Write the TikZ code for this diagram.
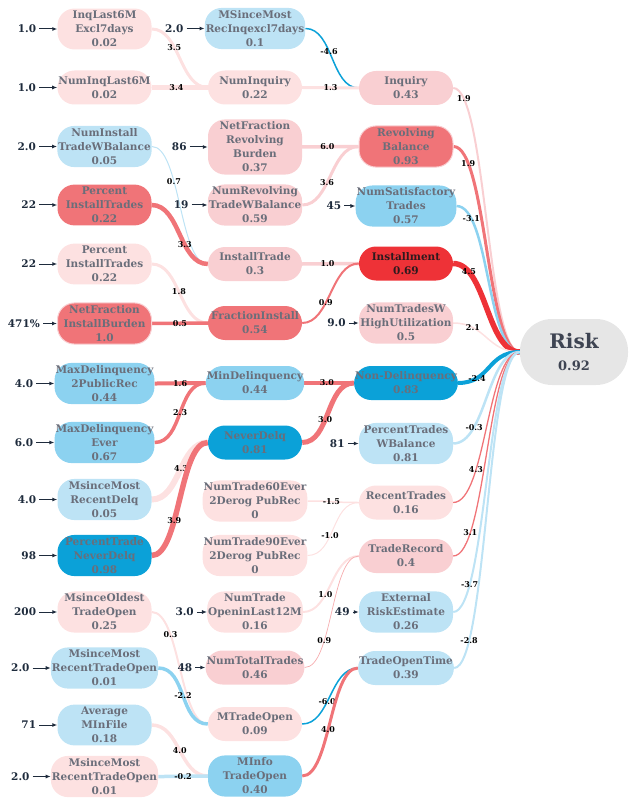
\documentclass[tikz,border=0pt]{standalone}
\usepackage{fontspec}
\setmainfont{DejaVu Serif}
\usetikzlibrary{positioning,calc,arrows.meta}

\definecolor{palepink}{HTML}{FDE1E1}
\definecolor{pinkc}{HTML}{F9CFD2}
\definecolor{redc}{HTML}{F07478}
\definecolor{hotred}{HTML}{EE3237}
\definecolor{paleblue}{HTML}{BDE3F5}
\definecolor{bluec}{HTML}{8CD2F0}
\definecolor{deepblue}{HTML}{0BA1D8}
\definecolor{riskgray}{HTML}{E6E6E6}
\definecolor{txtgray}{HTML}{6A6E7A}
\definecolor{risktxt}{HTML}{3E4452}
\definecolor{insttxt}{HTML}{2D1A1E}
\definecolor{navy}{HTML}{1E2B3C}

\pgfdeclarelayer{bg}
\pgfsetlayers{bg,main}

\tikzset{
  feat/.style={rounded corners=17pt, minimum width=94pt, minimum height=34pt,
    align=center, inner xsep=1pt, inner ysep=2.5pt, text=txtgray,
    font=\bfseries\fontsize{10.5}{14}\selectfont},
  innum/.style={font=\bfseries\fontsize{10.5}{12}\selectfont, text=navy, inner sep=1pt},
  inarr/.style={-{Latex[length=5pt,width=4pt]}, navy, line width=1pt, shorten <=2pt},
  wlab/.style={font=\bfseries\fontsize{8}{9}\selectfont, text=black, inner sep=0pt}
}

\begin{document}
\begin{tikzpicture}[x=1pt,y=-1pt]
    \useasboundingbox (0,0) rectangle (636,802);

    % Column 1
    \node[feat, fill=palepink] (inqExcl) at (104.5,29) {InqLast6M\\Excl7days\\0.02};
    \node[feat, fill=palepink] (numInq6M) at (104.5,87.5) {NumInqLast6M\\0.02};
    \node[feat, fill=paleblue] (numInstBal) at (104.5,146.5) {NumInstall\\TradeWBalance\\0.05};
    \node[feat, fill=redc] (pctInstA) at (104.5,205) {Percent\\InstallTrades\\0.22};
    \node[feat, fill=palepink] (pctInstB) at (104.5,264) {Percent\\InstallTrades\\0.22};
    \node[feat, fill=redc, draw=pinkc, line width=1pt] (netInstBurden) at (104.5,323.5) {NetFraction\\InstallBurden\\1.0};
    \node[feat, fill=bluec] (maxDelqPub) at (104.5,383.5) {MaxDelinquency\\2PublicRec\\0.44};
    \node[feat, fill=bluec] (maxDelqEver) at (104.5,442.5) {MaxDelinquency\\Ever\\0.67};
    \node[feat, fill=paleblue] (msDelq) at (104.5,499.5) {MsinceMost\\RecentDelq\\0.05};
    \node[feat, fill=deepblue] (pctNeverDelq) at (104.5,555.5) {PercentTrade\\NeverDelq\\0.98};
    \node[feat, fill=palepink] (msOldest) at (104.5,612) {MsinceOldest\\TradeOpen\\0.25};
    \node[feat, fill=paleblue] (msRecentA) at (104.5,668) {MsinceMost\\RecentTradeOpen\\0.01};
    \node[feat, fill=paleblue] (avgMFile) at (104.5,725) {Average\\MInFile\\0.18};
    \node[feat, fill=palepink] (msRecentB) at (104.5,776.5) {MsinceMost\\RecentTradeOpen\\0.01};

    % Column 2
    \node[feat, fill=paleblue] (msRecInq) at (255,28.5) {MSinceMost\\RecInqexcl7days\\0.1};
    \node[feat, fill=palepink] (numInquiry) at (255,87.5) {NumInquiry\\0.22};
    \node[feat, fill=pinkc] (netRevBurden) at (255,147) {NetFraction\\Revolving\\Burden\\0.37};
    \node[feat, fill=pinkc] (numRevBal) at (255,205) {NumRevolving\\TradeWBalance\\0.59};
    \node[feat, fill=pinkc] (installTrade) at (255,264) {InstallTrade\\0.3};
    \node[feat, fill=redc] (fracInstall) at (255,323) {FractionInstall\\0.54};
    \node[feat, fill=bluec] (minDelq) at (255,383) {MinDelinquency\\0.44};
    \node[feat, fill=deepblue] (neverDelq) at (255,442.5) {NeverDelq\\0.81};
    \node[feat, fill=palepink] (trade60) at (255,501) {NumTrade60Ever\\2Derog PubRec\\0};
    \node[feat, fill=palepink] (trade90) at (255,555.5) {NumTrade90Ever\\2Derog PubRec\\0};
    \node[feat, fill=palepink] (tradeOpen12) at (255,612) {NumTrade\\OpeninLast12M\\0.16};
    \node[feat, fill=pinkc] (numTotal) at (255,667.5) {NumTotalTrades\\0.46};
    \node[feat, fill=palepink] (mTradeOpen) at (255,724) {MTradeOpen\\0.09};
    \node[feat, fill=bluec] (mInfo) at (255,776) {MInfo\\TradeOpen\\0.40};

    % Column 3
    \node[feat, fill=pinkc] (inquiry) at (406,88) {Inquiry\\0.43};
    \node[feat, fill=redc, draw=pinkc, line width=1pt] (revBal) at (406,146.5) {Revolving\\Balance\\0.93};
    \node[feat, fill=bluec] (numSat) at (406,206) {NumSatisfactory\\Trades\\0.57};
    \node[feat, fill=hotred, text=insttxt] (installment) at (406,263.5) {Installment\\0.69};
    \node[feat, fill=pinkc] (highUtil) at (406,323) {NumTradesW\\HighUtilization\\0.5};
    \node[feat, fill=deepblue] (nonDelq) at (406,383) {Non-Delinquency\\0.83};
    \node[feat, fill=paleblue] (pctBal) at (406,443.5) {PercentTrades\\WBalance\\0.81};
    \node[feat, fill=palepink] (recentTrades) at (406,502.5) {RecentTrades\\0.16};
    \node[feat, fill=pinkc] (tradeRecord) at (406,556) {TradeRecord\\0.4};
    \node[feat, fill=paleblue] (extRisk) at (406,612) {External\\RiskEstimate\\0.26};
    \node[feat, fill=paleblue] (openTime) at (406,668) {TradeOpenTime\\0.39};

    % Output
    \node[fill=riskgray, rounded corners=32pt, minimum width=108pt, minimum height=66pt,
      align=center, text=risktxt, font=\bfseries\fontsize{13}{22}\selectfont] (risk) at (574,352)
      {{\fontsize{20}{22}\selectfont Risk}\\0.92};

    % Input values
    \foreach \n/\v/\g in {inqExcl/1.0/20pt, numInq6M/1.0/20pt, numInstBal/2.0/20pt,
        pctInstA/22/20pt, pctInstB/22/20pt, netInstBurden/471\%/16pt, maxDelqPub/4.0/20pt,
        maxDelqEver/6.0/20pt, msDelq/4.0/20pt, pctNeverDelq/98/20pt, msOldest/200/20pt,
        msRecentA/2.0/20pt, avgMFile/71/20pt, msRecentB/2.0/20pt,
        msRecInq/2.0/20pt, netRevBurden/86/20pt, numRevBal/19/18pt,
        tradeOpen12/3.0/12pt, numTotal/48/12pt,
        numSat/45/13pt, highUtil/9.0/12pt, pctBal/81/13pt, extRisk/49/8pt}
    {
        \node[innum, left=\g of \n] (v\n) {\v};
        \draw[inarr] (v\n) -- (\n);
    }

    \begin{pgfonlayer}{bg}
    % Column 1 to column 2
    \foreach \src/\dst/\col/\lw/\ps/\lab in {
        inqExcl/numInquiry/palepink/3pt/.37/3.5,
        numInq6M/numInquiry/palepink/4.5pt/.42/3.4,
        numInstBal/installTrade/paleblue/1pt/.36/0.7,
        pctInstA/installTrade/redc/4.5pt/.62/3.3,
        pctInstB/fracInstall/palepink/3pt/.48/1.8,
        netInstBurden/fracInstall/redc/3.5pt/.5/0.5,
        maxDelqPub/minDelq/redc/4pt/.5/1.6,
        maxDelqEver/minDelq/redc/3.5pt/.5/2.3,
        msDelq/neverDelq/palepink/6pt/.53/4.3,
        pctNeverDelq/neverDelq/redc/5.5pt/.37/3.9,
        msOldest/mTradeOpen/palepink/2pt/.29/0.3,
        msRecentA/mTradeOpen/bluec/3.5pt/.5/-2.2,
        avgMFile/mInfo/palepink/3.5pt/.5/4.0,
        msRecentB/mInfo/paleblue/3.5pt/.5/-0.2}
        \draw[draw=\col, line width=\lw] (\src.east) .. controls +(28.5,0) and +(-28.5,0)
            .. node[wlab, pos=\ps] {\lab} (\dst.west);

    % Column 2 to column 3
    \foreach \src/\dst/\col/\lw/\ps/\lab in {
        msRecInq/inquiry/deepblue/1.5pt/.42/-4.6,
        numInquiry/inquiry/palepink/3pt/.5/1.3,
        netRevBurden/revBal/pinkc/3.5pt/.43/6.0,
        numRevBal/revBal/pinkc/3pt/.42/3.6,
        installTrade/installment/pinkc/3.5pt/.43/1.0,
        fracInstall/installment/redc/2pt/.39/0.9,
        minDelq/nonDelq/redc/3.5pt/.43/3.0,
        neverDelq/nonDelq/redc/5pt/.42/3.0,
        trade60/recentTrades/palepink/1.5pt/.45/-1.5,
        trade90/recentTrades/palepink/1pt/.41/-1.0,
        tradeOpen12/tradeRecord/palepink/2pt/.37/1.0,
        numTotal/tradeRecord/redc!60/0.7pt/.32/0.9,
        mTradeOpen/openTime/deepblue/1.5pt/.43/-6.0,
        mInfo/openTime/redc/3pt/.45/4.0}
        \draw[draw=\col, line width=\lw] (\src.east) .. controls +(28,0) and +(-28,0)
            .. node[wlab, pos=\ps] {\lab} (\dst.west);

    % Column 3 to output
    \foreach \src/\col/\lw/\ps/\lab in {
        inquiry/pinkc/2pt/.12/1.9,
        revBal/redc/3pt/.175/1.9,
        numSat/bluec/2.5pt/.18/-3.1,
        installment/hotred/5.5pt/.19/4.5,
        highUtil/palepink/1.5pt/.25/2.1,
        nonDelq/deepblue/4pt/.25/-2.4,
        pctBal/paleblue/2.5pt/.27/-0.3,
        recentTrades/redc/1.3pt/.3/4.3,
        tradeRecord/redc/1.3pt/.21/3.1,
        extRisk/paleblue/2pt/.2/-3.7,
        openTime/paleblue/2pt/.18/-2.8}
        \draw[draw=\col, line width=\lw] (\src.east) .. controls +(33,0) and +(-33,0)
            .. node[wlab, pos=\ps] {\lab} (risk.west);
    \end{pgfonlayer}
\end{tikzpicture}
\end{document}
